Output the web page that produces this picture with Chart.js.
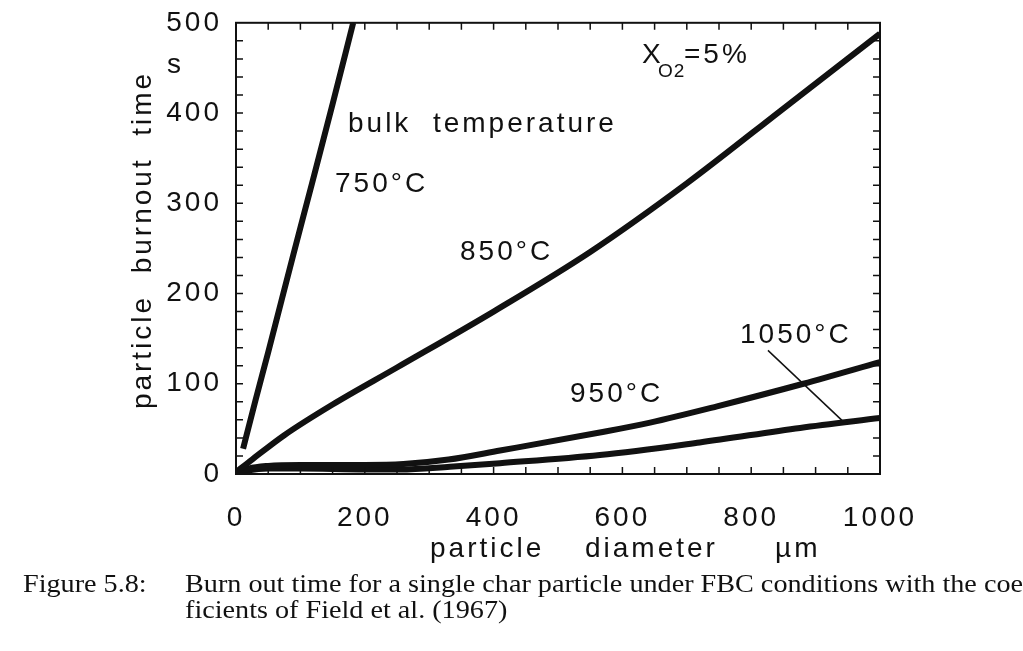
<!DOCTYPE html>
<html>
<head>
<meta charset="utf-8">
<script src="https://cdn.jsdelivr.net/npm/chart.js@4.4.1/dist/chart.umd.min.js"></script>
<style>
  html, body { margin: 0; padding: 0; background: #fff; }
  #wrap { width: 1023px; height: 651px; }
</style>
</head>
<body>
<div id="wrap"><canvas id="c" width="1023" height="651"></canvas></div>
<script>
// valores: diâmetro (µm) x tempo de queima (s)
const d750 = [11, 30, 50, 89, 118, 150, 182];
const t750 = [28, 81, 135, 243, 322, 410, 500];

const d850 = [0, 25, 75, 150, 250, 400, 550, 700, 850, 1000];
const t850 = [2, 16, 43, 77, 118, 180, 246, 322, 405, 488];

const d950 = [0, 20, 50, 100, 200, 260, 330, 410, 565, 643, 747, 881, 1000];
const t950 = [0, 6, 9, 10, 10, 11, 16, 26, 46, 57, 75, 100, 124];

const d1050 = [0, 20, 50, 100, 200, 255, 332, 410, 565, 720, 876, 1000];
const t1050 = [0, 4, 6, 6, 5, 5, 8, 12, 21, 35, 51, 62];

const xTicks = [0, 200, 400, 600, 800, 1000];
const yTicks = [0, 100, 200, 300, 400, 500];

const INK = '#111';
const FONT = '"Liberation Sans", Arial, sans-serif';

function pts(d, t) {
    return d.map((v, i) => ({ x: v, y: t[i] }));
}

function curve(d, t) {
    return {
        data: pts(d, t),
        borderColor: INK,
        borderWidth: 6,
        pointRadius: 0,
        fill: false,
        cubicInterpolationMode: 'monotone'
    };
}

// moldura, marcas internas e textos
const decor = {
    id: 'decor',
    beforeDraw(chart) {
        chart.ctx.letterSpacing = '3px';
    },
    afterDraw(chart) {
        const { ctx, chartArea: a, scales: { x, y } } = chart;
        ctx.save();
        ctx.strokeStyle = INK;
        ctx.lineWidth = 2;
        ctx.strokeRect(a.left, a.top, a.right - a.left, a.bottom - a.top);

        ctx.lineWidth = 1.5;
        ctx.beginPath();
        for (let v = 50; v < 1000; v += 50) {
            const px = x.getPixelForValue(v);
            ctx.moveTo(px, a.bottom); ctx.lineTo(px, a.bottom - 7);
            ctx.moveTo(px, a.top); ctx.lineTo(px, a.top + 7);
        }
        for (let v = 20; v < 500; v += 20) {
            const py = y.getPixelForValue(v);
            ctx.moveTo(a.left, py); ctx.lineTo(a.left + 7, py);
            ctx.moveTo(a.right, py); ctx.lineTo(a.right - 7, py);
        }
        ctx.stroke();

        // linha que liga o rótulo 1050°C à curva
        ctx.beginPath();
        ctx.moveTo(x.getPixelForValue(826), y.getPixelForValue(137));
        ctx.lineTo(x.getPixelForValue(943), y.getPixelForValue(58));
        ctx.stroke();

        ctx.fillStyle = INK;
        ctx.letterSpacing = '3px';
        ctx.font = '28px ' + FONT;
        ctx.textAlign = 'left';
        ctx.textBaseline = 'alphabetic';
        ctx.fillText('bulk  temperature', 348, 132);
        ctx.fillText('750°C', 335, 192);
        ctx.fillText('850°C', 460, 260);
        ctx.fillText('950°C', 570, 402);
        ctx.fillText('1050°C', 740, 343);
        ctx.fillText('s', 167, 73);

        ctx.fillText('X', 642, 63);
        ctx.font = '19px ' + FONT;
        ctx.letterSpacing = '1px';
        ctx.fillText('O2', 658, 77);
        ctx.font = '28px ' + FONT;
        ctx.letterSpacing = '3px';
        ctx.fillText('=5%', 684, 63);

        // títulos dos eixos
        ctx.fillText('particle', 430, 557);
        ctx.fillText('diameter', 585, 557);
        ctx.fillText('µm', 775, 557);

        ctx.save();
        ctx.translate(143, 240);
        ctx.rotate(-Math.PI / 2);
        ctx.textAlign = 'center';
        ctx.textBaseline = 'middle';
        ctx.fillText('particle  burnout  time', 0, 0);
        ctx.restore();

        // legenda da figura
        ctx.letterSpacing = '0px';
        ctx.font = '26px "Liberation Serif", "Times New Roman", serif';
        const line1 = 'Burn out time for a single char particle under FBC conditions with the coe';
        const k = 838 / ctx.measureText(line1).width;
        ctx.save();
        ctx.scale(k, 1);
        ctx.fillText('Figure 5.8:', 23 / k, 592);
        ctx.fillText(line1 + 'f-', 185 / k, 592);
        ctx.fillText('ficients of Field et al. (1967)', 185 / k, 618);
        ctx.restore();

        ctx.restore();
    }
};

Chart.defaults.color = INK;
Chart.defaults.font.family = FONT;

new Chart(document.getElementById('c'), {
    type: 'line',
    data: {
        datasets: [
            curve(d750, t750),
            curve(d850, t850),
            curve(d950, t950),
            curve(d1050, t1050)
        ]
    },
    options: {
        responsive: false,
        animation: false,
        layout: { padding: { top: 16, right: 143, left: 0, bottom: 0 } },
        plugins: { legend: { display: false }, tooltip: { enabled: false } },
        scales: {
            x: {
                type: 'linear',
                min: 0,
                max: 1000,
                grid: { display: false },
                border: { display: false },
                afterBuildTicks: s => { s.ticks = xTicks.map(v => ({ value: v })); },
                afterFit: s => { s.height = 177; },
                ticks: {
                    font: { size: 28 },
                    padding: 19,
                    maxRotation: 0,
                    autoSkip: false,
                    callback: v => String(v)
                }
            },
            y: {
                type: 'linear',
                min: 0,
                max: 500,
                grid: { display: false },
                border: { display: false },
                afterBuildTicks: s => { s.ticks = yTicks.map(v => ({ value: v })); },
                afterFit: s => { s.width = 236; },
                ticks: { font: { size: 28 }, padding: 6, autoSkip: false, callback: v => String(v) }
            }
        }
    },
    plugins: [decor]
});
</script>
</body>
</html>
